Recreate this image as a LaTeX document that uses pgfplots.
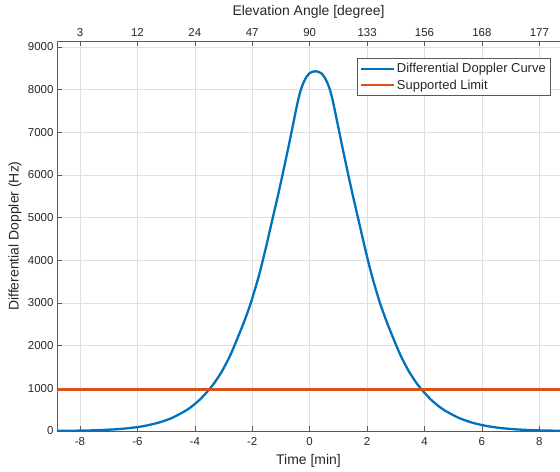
\documentclass[border=0pt]{standalone}
\usepackage{fontspec}
\setmainfont{Liberation Sans}
\usepackage{pgfplots}
\pgfplotsset{compat=1.18}
\usepackage{pgfplotstable}

\definecolor{mblue}{rgb}{0,0.447,0.741}
\definecolor{morange}{rgb}{0.85,0.325,0.098}
\definecolor{txt}{gray}{0.15}
\definecolor{axc}{gray}{0.35}
\definecolor{gridc}{gray}{0.88}

% differential Doppler
\pgfplotstableread{
t      f
-8.8   3
-7.8   11
-7.3   21
-6.8   38
-6.3   66
-5.8   113
-5.3   188
-4.8   305
-4.3   483
-4.05  605
-3.8   752
-3.5   972
-3.3   1145
-3.05  1405
-2.8   1725
-2.62  2000
-2.3   2530
-2.05  3000
-1.8   3560
-1.63  4000
-1.45  4510
-1.29  4980
-1.1   5530
-0.94  6020
-0.75  6620
-0.6   7110
-0.5   7440
-0.4   7760
-0.3   8010
-0.2   8185
-0.1   8310
0.0    8385
0.1    8420
0.2    8430
0.3    8420
0.4    8385
0.5    8310
0.6    8185
0.7    8010
0.8    7760
0.9    7440
1.0    7110
1.15   6620
1.34   6020
1.5    5530
1.69   4980
1.85   4510
2.03   4000
2.2    3560
2.45   3000
2.7    2530
3.02   2000
3.2    1725
3.45   1405
3.7    1145
3.9    972
4.2    752
4.45   605
4.7    483
5.2    305
5.7    188
6.2    113
6.7    66
7.2    38
7.7    21
8.2    11
8.72   6
}\doppler

\begin{document}
\begin{tikzpicture}
\useasboundingbox (-57bp,-41bp) rectangle (503bp,431bp);
\begin{axis}[
  at={(0,0)}, anchor=south west,
  scale only axis, width=503bp, height=390bp,
  xmin=-8.8, xmax=8.72, ymin=0, ymax=9140,
  axis x line*=bottom, axis y line*=left,
  axis line style={draw=axc, line width=0.7bp, -},
  tick align=inside, major tick length=5bp,
  tick style={draw=axc, line width=0.6bp},
  grid=major, major grid style={draw=gridc, line width=0.5bp},
  xtick={-8,-6,...,8}, xticklabels={-8,-6,-4,-2,0,2,4,6,8},
  ytick={0,1000,...,9000},
  yticklabels={0,1000,2000,3000,4000,5000,6000,7000,8000,9000},
  tick label style={font=\fontsize{11.5}{13}\selectfont, text=txt},
  xticklabel style={yshift=-3bp},
  label style={font=\fontsize{14}{16}\selectfont, text=txt},
  xlabel={Time [min]},
  ylabel={Differential Doppler (Hz)},
  xlabel style={at={(axis description cs:0.5,0)}, anchor=center, yshift=-30bp},
  ylabel style={at={(axis description cs:0,0.5)}, anchor=center, yshift=42bp},
  legend style={at={(0.980,0.956)}, anchor=north east, draw=axc, fill=white,
    font=\fontsize{13}{15}\selectfont, text=txt, row sep=1.5bp,
    inner xsep=2bp, inner ysep=3bp},
  legend cell align=left,
  legend image code/.code={\draw[#1] (0bp,0bp) -- (33bp,0bp);},
]
\addplot[mblue, line width=2.3bp, smooth, tension=0.4] table[x=t, y=f] {\doppler};
\addlegendentry{Differential Doppler Curve}
\addplot[morange, line width=2.3bp] coordinates {(-8.8,970) (8.72,970)};
\addlegendentry{Supported Limit}
\end{axis}
\begin{axis}[
  at={(0,0)}, anchor=south west,
  scale only axis, width=503bp, height=390bp,
  xmin=-8.8, xmax=8.72, ymin=0, ymax=1,
  axis x line*=top, hide y axis,
  axis line style={draw=axc, line width=0.7bp, -},
  tick align=inside, major tick length=5bp,
  tick style={draw=axc, line width=0.6bp},
  xtick={-8,-6,...,8}, xticklabels={3,12,24,47,90,133,156,168,177},
  tick label style={font=\fontsize{11.5}{13}\selectfont, text=txt},
  label style={font=\fontsize{14}{16}\selectfont, text=txt},
  xlabel={Elevation Angle [degree]},
  xlabel style={at={(axis description cs:0.5,1)}, anchor=center, yshift=29bp},
  xticklabel style={yshift=1bp},
]
\end{axis}
\end{tikzpicture}
\end{document}
